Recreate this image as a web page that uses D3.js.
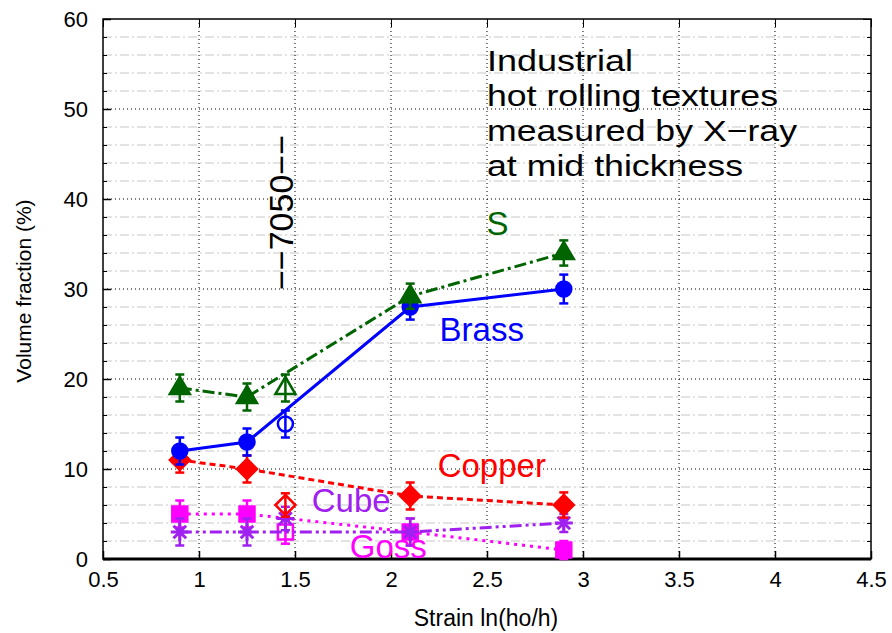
<!DOCTYPE html>
<html><head><meta charset="utf-8">
<script src="https://cdn.jsdelivr.net/npm/d3@7"></script>
<style>body{margin:0;background:#fff}svg{display:block;font-family:"Liberation Sans",Arial,sans-serif}</style>
</head><body><svg id="c" width="892" height="633"></svg>
<script>
// ---- data ----
const strain = [0.9, 1.25, 2.1, 2.9];
const brass = [12, 13, 28, 30];
const brassErr = [1.5, 1.5, 1.4, 1.6];
const sComp = [19, 18, 29.2, 34];
const sErr = [1.5, 1.5, 1.4, 1.4];
const copper = [11, 10, 7, 6];
const copperErr = [1.4, 1.5, 1.5, 1.4];
const cube = [3, 3, 3, 4];
const cubeErr = [1.5, 1.5, 1.5, 1.0];
const goss = [5, 5, 3, 1];
const gossErr = [1.5, 1.5, 1.5, 1.0];
// 7050 alloy (open symbols)
const strain7050 = 1.45;
const alloy7050 = {brass: 15, s: 19, copper: 6, cube: 4.5, goss: 3};
const err7050 = {brass: 1.5, s: 1.5, copper: 1.3, cube: 1.3, goss: 1.3};
const xTicks = [0.5, 1, 1.5, 2, 2.5, 3, 3.5, 4, 4.5];
const yTicks = [0, 10, 20, 30, 40, 50, 60];
const titleLines = ["Industrial", "hot rolling textures", "measured by X\u2212ray", "at mid thickness"];
const titleWidths = [146, 291, 310, 256];

// ---- layout ----
const svg = d3.select("#c");
const L = 103, R = 871, T = 19, B = 559;
const x = d3.scaleLinear().domain([0.5, 4.5]).range([L, R]);
const y = d3.scaleLinear().domain([0, 60]).range([B, T]);

// minor horizontal grid
const minorY = d3.range(0, 61, 2).filter(v => v % 10 !== 0);
svg.append("g").selectAll("line").data(minorY).join("line")
  .attr("x1", L).attr("x2", R).attr("y1", d => y(d)).attr("y2", d => y(d))
  .attr("stroke", "#c8c8c8").attr("stroke-width", 1.2).attr("stroke-dasharray", "9,3,2,3");
// major grid
svg.append("g").selectAll("line").data(yTicks.filter(v => v > 0 && v < 60)).join("line")
  .attr("x1", L).attr("x2", R).attr("y1", d => y(d)).attr("y2", d => y(d))
  .attr("stroke", "#000").attr("stroke-width", 1).attr("stroke-dasharray", "1,3");
svg.append("g").selectAll("line").data(xTicks.filter(v => v > 0.5 && v < 4.5)).join("line")
  .attr("y1", T).attr("y2", B).attr("x1", d => x(d)).attr("x2", d => x(d))
  .attr("stroke", "#000").attr("stroke-width", 1).attr("stroke-dasharray", "1,3");

// axes
const ax = svg.append("g").attr("transform", `translate(0,${B})`)
  .call(d3.axisBottom(x).tickValues(xTicks).tickSize(-8).tickPadding(12).tickFormat(d3.format("")));
const ay = svg.append("g").attr("transform", `translate(${L},0)`)
  .call(d3.axisLeft(y).tickValues(yTicks).tickSize(-8).tickPadding(15));
svg.append("g").attr("transform", `translate(${L},0)`)
  .call(d3.axisLeft(y).tickValues(minorY).tickSize(-4).tickFormat(""))
  .call(g => g.select(".domain").remove());
svg.append("g").attr("transform", `translate(${R},0)`)
  .call(d3.axisRight(y).tickValues(minorY).tickSize(-4).tickFormat(""))
  .call(g => g.select(".domain").remove());
svg.append("g").attr("transform", `translate(${R},0)`)
  .call(d3.axisRight(y).tickValues(yTicks).tickSize(-8).tickFormat(""))
  .call(g => g.select(".domain").remove());
svg.append("g").attr("transform", `translate(0,${T})`)
  .call(d3.axisTop(x).tickValues(xTicks).tickSize(-8).tickFormat(""))
  .call(g => g.select(".domain").remove());
[ax, ay].forEach(g => {
  g.selectAll("text").attr("font-size", 22).attr("fill", "#000").attr("font-family", "'Liberation Sans',Arial,sans-serif");
  g.selectAll("line").attr("stroke-width", 1.5);
  g.select(".domain").remove();
});
svg.append("rect").attr("x", L).attr("y", T).attr("width", R - L).attr("height", B - T)
  .attr("fill", "none").attr("stroke", "#000").attr("stroke-width", 1.5);
svg.append("line").attr("x1", L).attr("x2", R).attr("y1", B).attr("y2", B).attr("stroke", "#000").attr("stroke-width", 3);

// axis labels
svg.append("text").attr("x", 486).attr("y", 626).attr("text-anchor", "middle")
  .attr("font-size", 23).text("Strain ln(ho/h)");
svg.append("text").attr("transform", `translate(31,291) rotate(-90)`).attr("text-anchor", "middle")
  .attr("font-size", 21).text("Volume fraction (%)");

// series
const series = [
  {key: "s", vals: sComp, err: sErr, color: "#006400", dash: "12,4,3,4", shape: "tri", label: "S", lx: 2.497, ly: 36},
  {key: "brass", vals: brass, err: brassErr, color: "#0000ff", dash: null, shape: "circ", label: "Brass", lx: 2.253, ly: 24.2},
  {key: "copper", vals: copper, err: copperErr, color: "#ff0000", dash: "6,4", shape: "diam", label: "Copper", lx: 2.243, ly: 9.1},
  {key: "cube", vals: cube, err: cubeErr, color: "#a020f0", dash: "12,4,3,4,3,4", shape: "star", label: "Cube", lx: 1.587, ly: 5.2},
  {key: "goss", vals: goss, err: gossErr, color: "#ff00ff", dash: "3,5", shape: "sq", label: "Goss", lx: 1.785, ly: 0.1}
];

function marker(g, shape, cx, cy, color, filled) {
  const sw = 2.5, f = filled ? color : "none";
  if (shape === "circ") g.append("circle").attr("cx", cx).attr("cy", cy).attr("r", 7.5).attr("fill", f).attr("stroke", color).attr("stroke-width", sw);
  else if (shape === "tri") g.append("path").attr("d", `M${cx},${cy - 11}L${cx + 10},${cy + 6}L${cx - 10},${cy + 6}Z`).attr("fill", f).attr("stroke", color).attr("stroke-width", sw);
  else if (shape === "diam") g.append("path").attr("d", `M${cx},${cy - 10}L${cx + 10},${cy}L${cx},${cy + 10}L${cx - 10},${cy}Z`).attr("fill", f).attr("stroke", color).attr("stroke-width", sw);
  else if (shape === "sq") g.append("rect").attr("x", cx - 7.5).attr("y", cy - 7.5).attr("width", 15).attr("height", 15).attr("fill", f).attr("stroke", color).attr("stroke-width", sw);
  else if (shape === "star") {
    const r = 9;
    g.append("path").attr("d", `M${cx - r},${cy}L${cx + r},${cy}M${cx},${cy - r}L${cx},${cy + r}M${cx - r * .7},${cy - r * .7}L${cx + r * .7},${cy + r * .7}M${cx - r * .7},${cy + r * .7}L${cx + r * .7},${cy - r * .7}`)
      .attr("stroke", color).attr("stroke-width", 3).attr("fill", "none");
  }
}
function errbar(g, cx, v, e, color) {
  const y1 = y(v - e), y2 = y(v + e);
  g.append("line").attr("x1", cx).attr("x2", cx).attr("y1", y1).attr("y2", y2).attr("stroke", color).attr("stroke-width", 2.5);
  [y1, y2].forEach(yy => g.append("line").attr("x1", cx - 4.5).attr("x2", cx + 4.5).attr("y1", yy).attr("y2", yy).attr("stroke", color).attr("stroke-width", 2.5));
}

const line = d3.line().x(d => x(d[0])).y(d => y(d[1]));
const draw = [...series].reverse();
draw.forEach(s => {
  const g = svg.append("g");
  const pts = strain.map((sx, i) => [sx, s.vals[i]]);
  g.append("path").attr("d", line(pts)).attr("fill", "none").attr("stroke", s.color).attr("stroke-width", 3)
    .attr("stroke-dasharray", s.dash);
  pts.forEach((p, i) => { errbar(g, x(p[0]), p[1], s.err[i], s.color); marker(g, s.shape, x(p[0]), y(p[1]), s.color, true); });
  errbar(g, x(strain7050), alloy7050[s.key], err7050[s.key], s.color);
  marker(g, s.shape, x(strain7050), y(alloy7050[s.key]), s.color, false);
});
series.forEach(s => {
  svg.append("text").attr("x", x(s.lx)).attr("y", y(s.ly)).attr("fill", s.color).attr("font-size", 33).text(s.label);
});

// annotation (one text element per line)
titleLines.forEach((t, i) => svg.append("text").attr("x", 487).attr("y", 71 + i * 35)
  .attr("font-size", 30).attr("fill", "#000")
  .attr("textLength", titleWidths[i]).attr("lengthAdjust", "spacingAndGlyphs").text(t));
svg.append("text").attr("transform", `translate(293,290) rotate(-90)`).attr("font-size", 34).text("\u2212\u22127050\u2212\u2212");
</script></body></html>
